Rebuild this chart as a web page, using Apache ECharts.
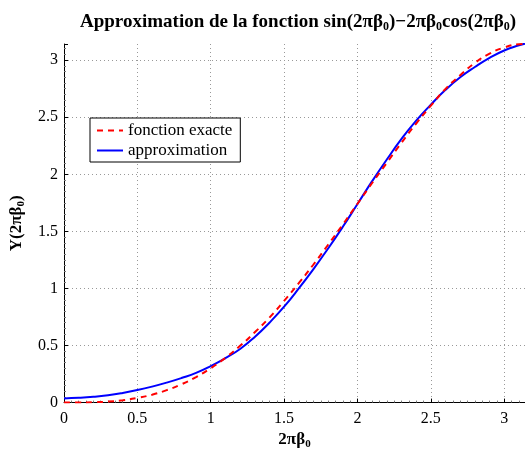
<!DOCTYPE html>
<html>
<head>
<meta charset="utf-8">
<script src="https://cdn.jsdelivr.net/npm/echarts@6/dist/echarts.min.js"></script>
<style>
  html, body { margin: 0; padding: 0; background: #fff; overflow: hidden; }
  #chart { width: 525px; height: 455px; }
</style>
</head>
<body>
<div id="chart"></div>
<script>
// abscisses 2*pi*beta0
const xs = [0, 0.1, 0.2, 0.3, 0.4, 0.5, 0.6, 0.7, 0.8, 0.9, 1.0, 1.1, 1.2, 1.3, 1.4, 1.5,
  1.6, 1.7, 1.8, 1.9, 2.0, 2.1, 2.2, 2.3, 2.4, 2.5, 2.6, 2.7, 2.8, 2.9, 3.0, 3.1, 3.1416];
// fonction exacte
const exacte = [0, 0.0, 0.003, 0.009, 0.021, 0.041, 0.069, 0.109, 0.16, 0.224, 0.301, 0.392,
  0.497, 0.616, 0.745, 0.891, 1.046, 1.21, 1.383, 1.56, 1.742, 1.924, 2.101, 2.277, 2.445,
  2.601, 2.748, 2.868, 2.976, 3.057, 3.111, 3.139, 3.1416];
// approximation
const approx = [0.037, 0.042, 0.051, 0.065, 0.085, 0.11, 0.14, 0.175, 0.215, 0.26, 0.32, 0.39,
  0.47, 0.575, 0.70, 0.84, 1.0, 1.17, 1.35, 1.54, 1.74, 1.94, 2.13, 2.31, 2.47, 2.61, 2.74,
  2.85, 2.94, 3.02, 3.085, 3.13, 3.145];
const ticks = [0, 0.5, 1, 1.5, 2, 2.5, 3];

const serif = 'Liberation Serif';
const sub = { fontFamily: serif, fontWeight: 'bold', fontSize: 11, color: '#000', verticalAlign: 'bottom', padding: [9, 0, 0, 0] };

const chart = echarts.init(document.getElementById('chart'));

function pairs(ys) {
  return xs.map((x, i) => [x, ys[i]]);
}

function fmt(v) {
  return ticks.indexOf(v) >= 0 ? String(v) : '';
}

const axisCommon = {
  type: 'value',
  min: 0,
  max: Math.PI,
  interval: 0.5,
  axisLine: { show: true, lineStyle: { color: '#000', width: 1 } },
  axisTick: { show: true, inside: true, length: 4, lineStyle: { color: '#000' } },
  minorTick: { show: true, splitNumber: 10, length: 2, lineStyle: { color: '#777' } },
  splitLine: { show: true, showMaxLine: false, lineStyle: { color: '#999', type: [1, 3], width: 1 } },
  axisLabel: { color: '#000', fontFamily: serif, fontSize: 16, formatter: fmt, showMaxLabel: false }
};

const nameRich = {
  t: { fontFamily: serif, fontWeight: 'bold', fontSize: 17, color: '#000' },
  s: sub
};

chart.setOption({
  backgroundColor: '#fff',
  animation: false,
  title: {
    text: '{t|Approximation de la fonction sin(2πβ}{s|0}{t|)−2πβ}{s|0}{t|cos(2πβ}{s|0}{t|)}',
    left: 293,
    textAlign: 'center',
    top: 6,
    textStyle: {
      rich: {
        t: { fontFamily: serif, fontWeight: 'bold', fontSize: 19, color: '#000' },
        s: Object.assign({}, sub, { fontSize: 12, padding: [10, 0, 0, 0] })
      }
    }
  },
  grid: { left: 64, right: -1, top: 44, bottom: 44, containLabel: false },
  legend: {
    left: 90,
    top: 118,
    orient: 'vertical',
    itemWidth: 26,
    itemHeight: 10,
    itemGap: 3,
    padding: [4, 8, 3, 6],
    borderColor: '#000',
    borderWidth: 1,
    backgroundColor: '#fff',
    itemStyle: { opacity: 0 },
    textStyle: { fontFamily: serif, fontSize: 17, color: '#000' },
    data: ['fonction exacte', 'approximation']
  },
  xAxis: Object.assign({}, axisCommon, {
    name: '{t|2πβ}{s|0}',
    nameLocation: 'middle',
    nameGap: 26,
    nameTextStyle: { rich: nameRich },
    axisLabel: Object.assign({}, axisCommon.axisLabel, { margin: 8 })
  }),
  yAxis: Object.assign({}, axisCommon, {
    name: '{t|Y(2πβ}{s|0}{t|)}',
    nameLocation: 'middle',
    nameGap: 33,
    nameRotate: 90,
    nameTextStyle: { rich: nameRich },
    axisLabel: Object.assign({}, axisCommon.axisLabel, { margin: 6 })
  }),
  series: [
    {
      name: 'fonction exacte',
      type: 'line',
      data: pairs(exacte),
      smooth: true,
      showSymbol: false,
      symbol: 'none',
      color: '#ff0000',
      lineStyle: { color: '#ff0000', width: 2, type: [6, 5] },
      z: 3
    },
    {
      name: 'approximation',
      type: 'line',
      data: pairs(approx),
      smooth: true,
      showSymbol: false,
      symbol: 'none',
      color: '#0000ff',
      lineStyle: { color: '#0000ff', width: 2 },
      z: 2
    }
  ]
});
</script>
</body>
</html>
